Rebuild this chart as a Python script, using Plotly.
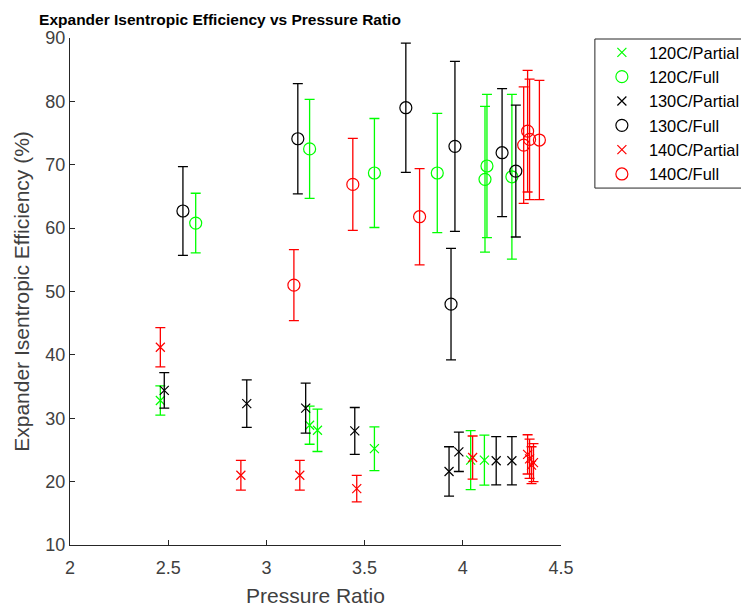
import plotly.graph_objects as go

# ---- data ----
p120_x = [2.46, 3.22, 3.26, 3.55, 4.04, 4.11]
p120_y = [32.8, 28.9, 28.1, 25.2, 23.4, 23.4]
p120_e = [2.3, 3.0, 3.35, 3.45, 4.65, 3.95]

f120_x = [2.64, 3.22, 3.55, 3.87, 4.123, 4.113, 4.25]
f120_y = [60.8, 72.5, 68.7, 68.7, 69.8, 67.7, 68.1]
f120_e = [4.7, 7.8, 8.6, 9.4, 11.3, 11.5, 13.0]

p130_x = [2.48, 2.90, 3.20, 3.45, 3.93, 3.98, 4.17, 4.25]
p130_y = [34.4, 32.3, 31.6, 28.0, 21.6, 24.7, 23.3, 23.3]
p130_e = [2.8, 3.75, 3.95, 3.7, 3.9, 3.1, 3.8, 3.8]

f130_x = [2.575, 3.16, 3.71, 3.96, 3.94, 4.20, 4.27]
f130_y = [62.7, 74.1, 79.0, 72.9, 48.0, 71.9, 69.0]
f130_e = [7.0, 8.7, 10.2, 13.4, 8.8, 10.1, 10.4]

p140_x = [2.46, 2.87, 3.17, 3.46, 4.05, 4.33, 4.34, 4.35, 4.36]
p140_y = [41.2, 21.0, 21.0, 18.9, 23.8, 24.3, 23.6, 22.6, 23.0]
p140_e = [3.1, 2.35, 2.35, 2.1, 3.4, 3.1, 3.1, 2.9, 3.0]

f140_x = [3.14, 3.44, 3.78, 4.31, 4.33, 4.34, 4.39]
f140_y = [51.0, 66.9, 61.8, 73.1, 75.3, 74.0, 73.9]
f140_e = [5.6, 7.25, 7.6, 9.2, 9.6, 9.5, 9.4]

series = [
    ("120C/Partial", p120_x, p120_y, p120_e, "#00ff00", "x-thin-open"),
    ("120C/Full", f120_x, f120_y, f120_e, "#00ff00", "circle-open"),
    ("130C/Partial", p130_x, p130_y, p130_e, "#000000", "x-thin-open"),
    ("130C/Full", f130_x, f130_y, f130_e, "#000000", "circle-open"),
    ("140C/Partial", p140_x, p140_y, p140_e, "#ff0000", "x-thin-open"),
    ("140C/Full", f140_x, f140_y, f140_e, "#ff0000", "circle-open"),
]

FONT = "Liberation Sans, Arial, sans-serif"
AXC = "#262626"
TXT = "#404040"

fig = go.Figure()
for i, (name, xs, ys, es, col, sym) in enumerate(series):
    fig.add_trace(go.Scatter(
        x=xs, y=ys, mode="markers", name=name,
        legendgroup="g%d" % i,
        marker=dict(symbol=sym, size=12 if "circle" in sym else 9,
                    color=col, line=dict(color=col, width=1.2)),
        error_y=dict(type="data", array=es, symmetric=True,
                     color=col, thickness=1.3, width=5),
    ))

# legend frame (the legend box of the reference, clipped by the right edge)
fig.add_shape(type="rect", xref="paper", yref="paper",
              x0=1.069, x1=1.40, y0=0.704, y1=0.998,
              line=dict(color=AXC, width=1), fillcolor="white", layer="below")

# the page body adds an 8px offset, margins compensate for it
fig.update_layout(
    width=749, height=607,
    margin=dict(l=62, r=194, t=30, b=70),
    paper_bgcolor="white", plot_bgcolor="white",
    font=dict(family=FONT, color=AXC, size=15),
    title=dict(text="<b>Expander Isentropic Efficiency vs Pressure Ratio</b>",
               x=212 / 749, xanchor="center", xref="container",
               y=1 - 12 / 607, yanchor="middle", yref="container",
               font=dict(family=FONT, size=15.5, color="#000")),
    showlegend=True,
    legend=dict(x=1.069, xanchor="left", y=1.0055, yanchor="top",
                borderwidth=0, bgcolor="rgba(0,0,0,0)",
                font=dict(family=FONT, size=16.4, color="#000"),
                traceorder="grouped", tracegroupgap=0, itemwidth=44),
)
fig.update_xaxes(
    range=[2, 4.5], tickvals=[2, 2.5, 3, 3.5, 4, 4.5],
    ticktext=["2", "2.5", "3", "3.5", "4", "4.5"], automargin=False,
    showline=True, linecolor=AXC, linewidth=1, mirror=False,
    ticks="inside", ticklen=5, tickcolor=AXC, showgrid=False, zeroline=False,
    tickfont=dict(size=18, color=TXT), ticklabelstandoff=6,
    title=dict(text="Pressure Ratio", font=dict(size=21, color=TXT), standoff=11),
)
fig.update_yaxes(
    range=[10, 90], tickvals=[10, 20, 30, 40, 50, 60, 70, 80, 90], automargin=False,
    showline=True, linecolor=AXC, linewidth=1, mirror=False,
    ticks="inside", ticklen=5, tickcolor=AXC, showgrid=False, zeroline=False,
    tickfont=dict(size=18, color=TXT),
    title=dict(text="Expander Isentropic Efficiency (%)", font=dict(size=21, color=TXT), standoff=10),
)

fig.write_html("out.html")
